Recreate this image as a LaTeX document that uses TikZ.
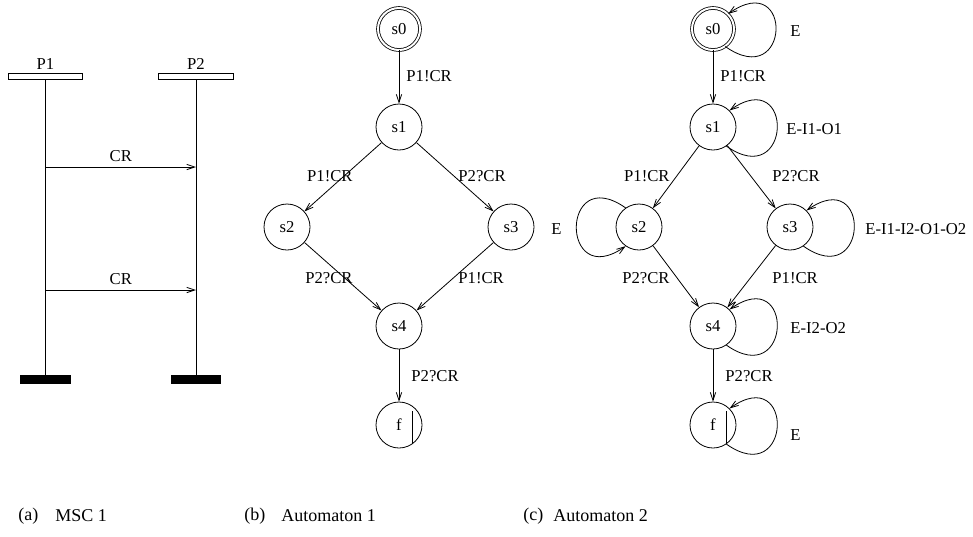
\documentclass[tikz,border=0pt]{standalone}
\usepackage{fontspec}
\setmainfont{Liberation Serif}
\usetikzlibrary{arrows.meta}
\tikzset{
  state/.style={draw,circle,minimum size=34.5pt,inner sep=0pt,font=\fontsize{12.5}{15}\selectfont},
  initstate/.style={state,double,double distance=1.5pt,minimum size=31.5pt},
  lbl/.style={inner sep=0pt,font=\fontsize{12.5}{15}\selectfont},
  captext/.style={inner sep=0pt,anchor=west,font=\fontsize{13.5}{16}\selectfont},
  trans/.style={-{Straight Barb[length=6pt,width=4pt]}},
  inst/.style={draw,minimum width=56pt,minimum height=5pt,inner sep=0pt},
  instend/.style={fill=black,minimum width=38pt,minimum height=6.75pt,inner sep=0pt},
}
\begin{document}
\begin{tikzpicture}[x=0.75pt,y=0.75pt,line width=0.6pt]
\useasboundingbox (0,0) rectangle (973,-536);
% (a) MSC 1
\node[inst] (p1) at (45.5,-76.5) {};
\node[inst] (p2) at (196,-76.5) {};
\node[lbl] (p1name) at (45.5,-64) {P1};
\node[lbl] (p2name) at (196,-64) {P2};
\node[instend] (p1end) at (45.5,-379.5) {};
\node[instend] (p2end) at (196,-379.5) {};
\draw (p1) -- (p1end);
\draw (p2) -- (p2end);
\coordinate (m1a) at (45.5,-167);
\coordinate (m1b) at (196,-167);
\coordinate (m2a) at (45.5,-290);
\coordinate (m2b) at (196,-290);
\draw[trans] (m1a) -- node[lbl,above=4pt]{CR} (m1b);
\draw[trans] (m2a) -- node[lbl,above=4pt]{CR} (m2b);
% (b) Automaton 1
\node[initstate] (bs0) at (399,-29) {s0};
\node[state] (bs1) at (399,-127) {s1};
\node[state] (bs2) at (287,-227) {s2};
\node[state] (bs3) at (511,-227) {s3};
\node[state] (bs4) at (399,-326) {s4};
\node[state] (bf) at (399,-425) {f};
\draw (bf) ++(13,14) -- ++(0,-33);
\draw[trans] (bs0) -- (bs1);
\draw[trans] (bs1) -- (bs2);
\draw[trans] (bs1) -- (bs3);
\draw[trans] (bs2) -- (bs4);
\draw[trans] (bs3) -- (bs4);
\draw[trans] (bs4) -- (bf);
\node[lbl,anchor=west] (bl01) at (406,-76) {P1!CR};
\node[lbl,anchor=east] (bl12) at (353,-176) {P1!CR};
\node[lbl,anchor=west] (bl13) at (458,-176) {P2?CR};
\node[lbl,anchor=east] (bl24) at (353,-278) {P2?CR};
\node[lbl,anchor=west] (bl34) at (458,-278) {P1!CR};
\node[lbl,anchor=west] (bl4f) at (411,-376) {P2?CR};
% (c) Automaton 2
\node[initstate] (cs0) at (713,-29) {s0};
\node[state] (cs1) at (713,-127) {s1};
\node[state] (cs2) at (639,-227) {s2};
\node[state] (cs3) at (790,-227) {s3};
\node[state] (cs4) at (713,-326) {s4};
\node[state] (cf) at (713,-425) {f};
\draw (cf) ++(13,14) -- ++(0,-33);
\draw[trans] (cs0) -- (cs1);
\draw[trans] (cs1) -- (cs2);
\draw[trans] (cs1) -- (cs3);
\draw[trans] (cs2) -- (cs4);
\draw[trans] (cs3) -- (cs4);
\draw[trans] (cs4) -- (cf);
\node[lbl,anchor=west] (cl01) at (720,-76) {P1!CR};
\node[lbl,anchor=east] (cl12) at (670,-176) {P1!CR};
\node[lbl,anchor=west] (cl13) at (772,-176) {P2?CR};
\node[lbl,anchor=east] (cl24) at (670,-278) {P2?CR};
\node[lbl,anchor=west] (cl34) at (772,-278) {P1!CR};
\node[lbl,anchor=west] (cl4f) at (725,-376) {P2?CR};
% self loops
\draw[trans] (cs0.-55) .. controls +(-35:80) and +(35:80) .. (cs0.45);
\draw[trans] (cs1.-55) .. controls +(-35:80) and +(35:80) .. (cs1.45);
\draw[trans] (cs2.125) .. controls +(145:80) and +(215:80) .. (cs2.-125);
\draw[trans] (cs3.-55) .. controls +(-35:80) and +(35:80) .. (cs3.45);
\draw[trans] (cs4.-55) .. controls +(-35:80) and +(35:80) .. (cs4.45);
\draw[trans] (cf.-55) .. controls +(-35:80) and +(35:80) .. (cf.45);
\node[lbl,anchor=west] (ce0) at (790,-31) {E};
\node[lbl,anchor=west] (ce1) at (786,-129) {E-I1-O1};
\node[lbl,anchor=east] (ce2) at (562,-229) {E};
\node[lbl,anchor=west] (ce3) at (865,-229) {E-I1-I2-O1-O2};
\node[lbl,anchor=west] (ce4) at (790,-328) {E-I2-O2};
\node[lbl,anchor=west] (cef) at (790,-435) {E};
% captions
\node[captext] (capa) at (18,-516) {(a)};
\node[captext] (capam) at (55,-516) {MSC 1};
\node[captext] (capb) at (244,-516) {(b)};
\node[captext] (capbm) at (281,-516) {Automaton 1};
\node[captext] (capc) at (523,-516) {(c)};
\node[captext] (capcm) at (553,-516) {Automaton 2};
\end{tikzpicture}
\end{document}
